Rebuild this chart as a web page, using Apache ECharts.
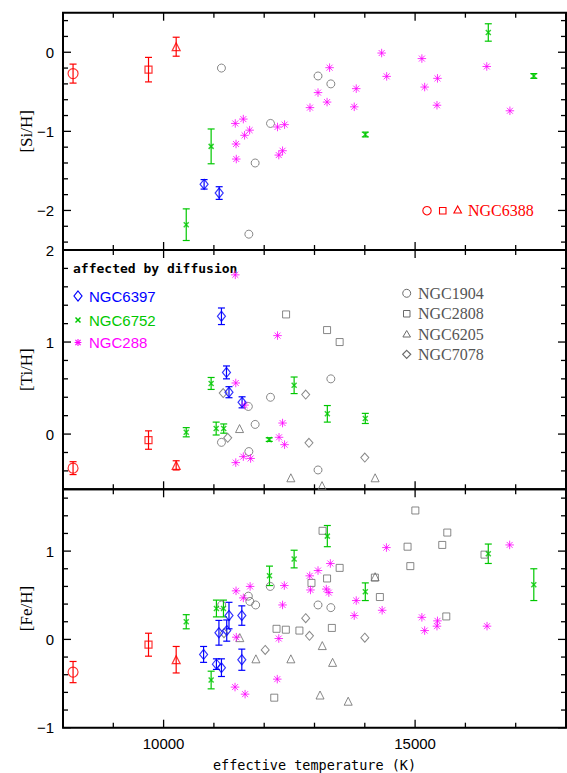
<!DOCTYPE html>
<html>
<head>
<meta charset="utf-8">
<script src="https://cdn.jsdelivr.net/npm/echarts@6/dist/echarts.min.js"></script>
<style>
  html, body { margin: 0; padding: 0; background: #fff; }
  #chart { width: 567px; height: 773px; }
</style>
</head>
<body>
<div id="chart"></div>
<script>
// axis ranges and ticks
const teffRange = [8000, 18000]
const xMajorTicks = [10000, 15000]
const xMinorTicks = [9000, 11000, 12000, 13000, 14000, 16000, 17000]
const siRange = [-2.5, 0.5]
const siTicks = [-2, -1, 0]
const tiRange = [-0.6, 2]
const tiTicks = [0, 1, 2]
const feRange = [-1, 1.7]
const feTicks = [-1, 0, 1]

// NGC6388 (three stars: circle, square, triangle)
const ngc6388Teff = [8200, 9700, 10250]
const ngc6388Si = [-0.27, -0.22, 0.07]
const ngc6388SiErr = [0.12, 0.155, 0.12]
const ngc6388Ti = [-0.37, -0.065, -0.34]
const ngc6388TiErr = [0.07, 0.10, 0.05]
const ngc6388Fe = [-0.37, -0.06, -0.23]
const ngc6388FeErr = [0.12, 0.13, 0.15]

// NGC6752 [teff, value, error]
const ngc6752Si = [[10450, -2.18, 0.20], [10945, -1.19, 0.22], [14010, -1.04, 0.03], [16455, 0.25, 0.11], [17360, -0.30, 0.03]]
const ngc6752Ti = [[10450, 0.02, 0.05], [10945, 0.55, 0.065], [11045, 0.06, 0.07], [11195, 0.06, 0.05], [12100, -0.06, 0.02],
  [12595, 0.53, 0.09], [13255, 0.22, 0.09], [14010, 0.17, 0.055]]
const ngc6752Fe = [[10450, 0.20, 0.08], [10945, -0.46, 0.10], [11050, 0.35, 0.095], [11190, 0.35, 0.095], [12105, 0.72, 0.11],
  [12595, 0.91, 0.10], [13255, 1.17, 0.12], [14010, 0.54, 0.10], [16455, 0.97, 0.11], [17360, 0.62, 0.18]]

// NGC6397 [teff, value, error]
const ngc6397Si = [[10805, -1.67, 0.06], [11105, -1.78, 0.08]]
const ngc6397Ti = [[11150, 1.28, 0.09], [11250, 0.67, 0.07], [11300, 0.455, 0.06], [11560, 0.345, 0.06]]
const ngc6397Fe = [[10795, -0.17, 0.09], [11050, -0.28, 0.06], [11150, -0.32, 0.10], [11100, 0.075, 0.14],
  [11255, 0.10, 0.12], [11300, 0.27, 0.15], [11555, 0.27, 0.11], [11555, -0.23, 0.12]]

// NGC288 [teff, value]
const ngc288Si = [[11425, -0.90], [11585, -0.845], [11610, -1.05], [11710, -0.985], [11440, -1.16], [11445, -1.35],
  [12265, -0.945], [12405, -0.915], [12290, -1.30], [12365, -1.245], [13300, -0.195], [13070, -0.51], [12910, -0.70],
  [13250, -0.63], [13790, -0.69], [13830, -0.46], [14335, -0.01], [14435, -0.305], [15135, -0.08], [15190, -0.44],
  [15445, -0.33], [15435, -0.67], [16425, -0.18], [16885, -0.74]]
const ngc288Ti = [[11425, 1.73], [11435, 0.555], [11610, 0.315], [11435, -0.31], [11585, -0.245], [11730, -0.265],
  [12265, 1.07], [12365, 0.12], [12295, -0.035], [12405, -0.115]]
const ngc288Fe = [[11440, 0.55], [11585, 0.47], [11720, 0.60], [11445, 0.025], [11420, -0.54], [11620, -0.62],
  [12400, 0.61], [12365, 0.39], [12290, 0.01], [12260, -0.45], [14430, 1.04], [16880, 1.07], [13315, 0.86],
  [13070, 0.78], [12905, 0.72], [12920, 0.56], [13235, 0.57], [13285, 0.53], [13830, 0.44], [13790, 0.27],
  [14345, 0.33], [15135, 0.25], [15190, 0.10], [15445, 0.21], [15435, 0.15], [16430, 0.15]]

// NGC1904 [teff, value]
const ngc1904Si = [[11150, -0.20], [12125, -0.90], [11820, -1.40], [11695, -2.30], [13070, -0.30], [13325, -0.40]]
const ngc1904Ti = [[11150, -0.09], [11685, 0.30], [11820, 0.105], [11695, -0.19], [12125, 0.40], [13325, 0.60], [13070, -0.39]]
const ngc1904Fe = [[11155, 0.39], [11685, 0.49], [11715, 0.43], [11830, 0.39], [12120, 0.60], [13070, 0.39], [13325, 0.36]]

// NGC2808 [teff, value]
const ngc2808Ti = [[12435, 1.30], [13250, 1.13], [13500, 1.00]]
const ngc2808Fe = [[12200, -0.66], [12245, 0.12], [12430, 0.11], [12700, 0.10], [13345, 0.13], [12940, 0.64],
  [13250, 0.69], [13500, 0.81], [13160, 1.23], [14200, 0.70], [14300, 0.48], [14850, 1.05], [14905, 0.83],
  [15005, 1.46], [15540, 1.07], [15640, 1.21], [15620, 0.26], [16380, 0.96]]

// NGC6205 [teff, value]
const ngc6205Ti = [[11510, 0.06], [12530, -0.475], [13150, -0.56], [14205, -0.475]]
const ngc6205Fe = [[11515, 0.02], [11835, -0.22], [12530, -0.22], [13155, -0.07], [13360, -0.26], [13110, -0.63],
  [13670, -0.70], [14205, 0.71]]

// NGC7078 [teff, value]
const ngc7078Ti = [[11185, 0.445], [11275, -0.04], [12825, 0.43], [12890, -0.095], [14000, -0.255]]
const ngc7078Fe = [[11200, 0.07], [12020, -0.12], [12825, 0.24], [12900, 0.04], [14000, 0.02]]

const RED = '#ff0000', GREEN = '#00c800', BLUE = '#0000ff', MAGENTA = '#ff00ff', GRAY = '#6a6a6a'
const ASTERISK = 'path://M5,0L5,10M0,5L10,5M1.5,1.5L8.5,8.5M8.5,1.5L1.5,8.5'
const CROSS = 'path://M0,0L10,10M10,0L0,10'
const labelFont = 'Liberation Sans'

const grids = [
  { left: 63, right: 1, top: 12.7, height: 237.3 },
  { left: 63, right: 1, top: 250, height: 239.3 },
  { left: 63, right: 1, top: 489.3, height: 238.4 }
].map(g => ({ ...g, show: true, borderColor: '#000', borderWidth: 2 }))
const yRanges = [siRange, tiRange, feRange]
const yTicks = [siTicks, tiTicks, feTicks]
const yNames = ['[Si/H]', '[Ti/H]', '[Fe/H]']

// 0.2-step minor ticks that are not major ticks
function minorSteps(range, major) {
  const out = []
  for (let v = Math.ceil(range[0] * 5 - 1e-6); v <= Math.floor(range[1] * 5 + 1e-6); v++) {
    const t = Math.round(v * 2) / 10
    if (!major.some(m => Math.abs(m - t) < 1e-6)) out.push(t)
  }
  return out
}

const fmt = v => String(v).replace('-', '\u2212')
const xAxes = grids.map((g, p) => ({
  type: 'value', gridIndex: p, position: 'bottom', min: teffRange[0], max: teffRange[1],
  axisLine: { show: false, onZero: false },
  axisTick: { show: false },
  axisLabel: {
    show: p === 2, customValues: xMajorTicks, margin: 8, formatter: v => String(v),
    fontFamily: labelFont, fontSize: 15, color: '#000'
  },
  splitLine: { show: false },
  name: p === 2 ? 'effective temperature (K)' : '',
  nameLocation: 'middle', nameGap: 30,
  nameTextStyle: { fontFamily: 'DejaVu Sans Mono', fontSize: 13.5, color: '#000' }
}))
const yAxes = grids.map((g, p) => ({
  type: 'value', gridIndex: p, position: 'left', min: yRanges[p][0], max: yRanges[p][1],
  axisLine: { show: false, onZero: false },
  axisTick: { show: false },
  axisLabel: {
    show: true, customValues: yTicks[p], margin: 9, formatter: fmt,
    fontFamily: labelFont, fontSize: 15, color: '#000'
  },
  splitLine: { show: false },
  name: yNames[p], nameLocation: 'middle', nameGap: 28, nameMoveOverlap: false,
  nameTextStyle: { fontFamily: 'Liberation Serif', fontSize: 17, color: '#000' }
}))

// inward ticks on all four sides, placed through the axis scales
function tickSeries(p) {
  const yLo = yRanges[p][0], xLo = teffRange[0]
  const data = [
    ...xMajorTicks.map(v => [v, yLo, 0, 8]),
    ...xMinorTicks.map(v => [v, yLo, 0, 5]),
    ...yTicks[p].map(v => [xLo, v, 1, 8]),
    ...minorSteps(yRanges[p], yTicks[p]).map(v => [xLo, v, 1, 5])
  ]
  return {
    type: 'custom', xAxisIndex: p, yAxisIndex: p, data, silent: true, z: 5, clip: false,
    encode: { x: 0, y: 1 },
    renderItem: (params, api) => {
      const cs = params.coordSys
      const pt = api.coord([api.value(0), api.value(1)])
      const len = api.value(3)
      const style = { stroke: '#000', lineWidth: 1.3 }
      let segs
      if (api.value(2) === 0) {
        const x = pt[0]
        segs = [[x, cs.y, x, cs.y + len], [x, cs.y + cs.height, x, cs.y + cs.height - len]]
      } else {
        const y = pt[1]
        segs = [[cs.x, y, cs.x + len, y], [cs.x + cs.width, y, cs.x + cs.width - len, y]]
      }
      return {
        type: 'group',
        children: segs.map(s => ({ type: 'line', shape: { x1: s[0], y1: s[1], x2: s[2], y2: s[3] }, style }))
      }
    }
  }
}

function errorBars(data, p, color) {
  return {
    type: 'custom', xAxisIndex: p, yAxisIndex: p, data, silent: true, z: 2,
    encode: { x: 0, y: 1 },
    renderItem: (params, api) => {
      const x = api.value(0), y = api.value(1), e = api.value(2)
      const hi = api.coord([x, y + e]), lo = api.coord([x, y - e])
      const w = 3.5
      const style = { stroke: color, lineWidth: 1.2 }
      return {
        type: 'group', children: [
          { type: 'line', shape: { x1: hi[0], y1: hi[1], x2: lo[0], y2: lo[1] }, style },
          { type: 'line', shape: { x1: hi[0] - w, y1: hi[1], x2: hi[0] + w, y2: hi[1] }, style },
          { type: 'line', shape: { x1: lo[0] - w, y1: lo[1], x2: lo[0] + w, y2: lo[1] }, style }
        ]
      }
    }
  }
}

function points(data, p, symbol, size, color, width) {
  return {
    type: 'scatter', xAxisIndex: p, yAxisIndex: p, data, symbol, symbolSize: size, z: 3, silent: true,
    itemStyle: { color: 'rgba(0,0,0,0)', borderColor: color, borderWidth: width || 1 }
  }
}

const series = [tickSeries(0), tickSeries(1), tickSeries(2)]
const red = [[ngc6388Si, ngc6388SiErr], [ngc6388Ti, ngc6388TiErr], [ngc6388Fe, ngc6388FeErr]]
const redSymbols = [['circle', 10], ['rect', 7], ['triangle', 8]]
red.forEach(([vals, errs], p) => {
  const data = ngc6388Teff.map((t, i) => [t, vals[i], errs[i]])
  series.push(errorBars(data, p, RED))
  data.forEach((d, i) => series.push(points([d], p, redSymbols[i][0], redSymbols[i][1], RED, 1.2)))
})

const grayPanels = [
  [[ngc1904Si, 'circle', 8]],
  [[ngc1904Ti, 'circle', 8], [ngc2808Ti, 'rect', 7], [ngc6205Ti, 'triangle', 8], [ngc7078Ti, 'diamond', [8, 9]]],
  [[ngc1904Fe, 'circle', 8], [ngc2808Fe, 'rect', 7], [ngc6205Fe, 'triangle', 8], [ngc7078Fe, 'diamond', [8, 9]]]
]
grayPanels.forEach((list, p) => list.forEach(([d, s, sz]) => series.push(points(d, p, s, sz, GRAY, 1))))

;[ngc288Si, ngc288Ti, ngc288Fe].forEach((d, p) => series.push(points(d, p, ASTERISK, 8.5, MAGENTA, 1)))

;[ngc6752Si, ngc6752Ti, ngc6752Fe].forEach((d, p) => {
  series.push(errorBars(d, p, GREEN))
  series.push(points(d, p, CROSS, 5, GREEN, 1.5))
})
;[ngc6397Si, ngc6397Ti, ngc6397Fe].forEach((d, p) => {
  series.push(errorBars(d, p, BLUE))
  series.push(points(d, p, 'diamond', [8, 10], BLUE, 1.2))
})

// legends
const legendText = (x, y, text, color, font) => ({
  type: 'text', x, y, silent: true,
  style: { text, fill: color, font, verticalAlign: 'middle', align: 'left' }
})
const diamondAt = (x, y, w, h, color) => ({
  type: 'polygon', silent: true,
  shape: { points: [[x, y - h / 2], [x + w / 2, y], [x, y + h / 2], [x - w / 2, y]] },
  style: { fill: 'none', stroke: color, lineWidth: 1.2 }
})
const linesAt = (x, y, r, color, lw, withPlus) => {
  const segs = [[-r, -r, r, r], [r, -r, -r, r]]
  if (withPlus) segs.push([0, -r * 1.3, 0, r * 1.3], [-r * 1.3, 0, r * 1.3, 0])
  return segs.map(s => ({
    type: 'line', silent: true,
    shape: { x1: x + s[0], y1: y + s[1], x2: x + s[2], y2: y + s[3] },
    style: { stroke: color, lineWidth: lw }
  }))
}

const sansLeg = '15px "Liberation Sans"'
const serifLeg = '16px "Liberation Serif"'
const graphic = [
  legendText(73, 268, 'affected by diffusion', '#000', 'bold 13px "DejaVu Sans Mono"'),
  diamondAt(78, 296, 8, 10, BLUE),
  legendText(89, 296, 'NGC6397', BLUE, sansLeg),
  ...linesAt(78, 320, 2.5, GREEN, 1.5, false),
  legendText(89, 320, 'NGC6752', GREEN, sansLeg),
  ...linesAt(78, 342.5, 2.6, MAGENTA, 1.1, true),
  legendText(89, 342.5, 'NGC288', MAGENTA, sansLeg),

  { type: 'circle', silent: true, shape: { cx: 406.7, cy: 293.3, r: 4 }, style: { fill: 'none', stroke: GRAY, lineWidth: 1 } },
  legendText(418, 293.3, 'NGC1904', '#555', serifLeg),
  { type: 'rect', silent: true, shape: { x: 403.5, y: 310.5, width: 6.5, height: 6.5 }, style: { fill: 'none', stroke: GRAY, lineWidth: 1 } },
  legendText(418, 313.8, 'NGC2808', '#555', serifLeg),
  { type: 'polygon', silent: true, shape: { points: [[406.7, 330.5], [410.5, 337], [402.9, 337]] }, style: { fill: 'none', stroke: GRAY, lineWidth: 1 } },
  legendText(418, 334.3, 'NGC6205', '#555', serifLeg),
  diamondAt(406.7, 354.3, 8, 8, GRAY),
  legendText(418, 354.3, 'NGC7078', '#555', serifLeg),

  { type: 'circle', silent: true, shape: { cx: 427, cy: 210.7, r: 4.2 }, style: { fill: 'none', stroke: RED, lineWidth: 1.1 } },
  { type: 'rect', silent: true, shape: { x: 439.5, y: 207.5, width: 6.5, height: 6.5 }, style: { fill: 'none', stroke: RED, lineWidth: 1.1 } },
  { type: 'polygon', silent: true, shape: { points: [[457.7, 206], [461.5, 213], [453.9, 213]] }, style: { fill: 'none', stroke: RED, lineWidth: 1.1 } },
  legendText(468, 210.7, 'NGC6388', RED, serifLeg)
]

const chart = echarts.init(document.getElementById('chart'), null, { renderer: 'svg' })
chart.setOption({
  animation: false,
  backgroundColor: '#fff',
  grid: grids,
  xAxis: xAxes,
  yAxis: yAxes,
  series,
  graphic
})
</script>
</body>
</html>
